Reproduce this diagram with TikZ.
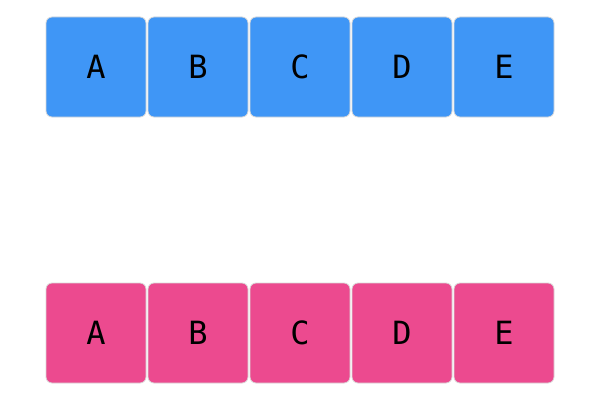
\documentclass[tikz,border=0pt]{standalone}
\usepackage{fontspec}
\setmonofont{DejaVu Sans Mono}
\usepackage{tikz}
\usetikzlibrary{positioning}
\definecolor{topblue}{HTML}{3F96F6}
\definecolor{botpink}{HTML}{EC4A8F}
\definecolor{rimgray}{HTML}{D8D8D8}

\begin{document}
\begin{tikzpicture}[x=1pt,y=1pt,node distance=1.2pt,
	nodes={draw=rimgray, line width=0.8pt, rounded corners=6pt, minimum width=100pt, minimum height=100pt, inner sep=0pt, font=\ttfamily\fontsize{32}{32}\selectfont}]
		\useasboundingbox (0,0) rectangle (600,400);
		\node (t1) [fill=topblue] at (96,333) {A};
		\node (t2) [fill=topblue, right = of t1] {B};
		\node (t3) [fill=topblue, right = of t2] {C};
		\node (t4) [fill=topblue, right = of t3] {D};
		\node (t5) [fill=topblue, right = of t4] {E};
		\node (b1) [fill=botpink] at (96,67) {A};
		\node (b2) [fill=botpink, right = of b1] {B};
		\node (b3) [fill=botpink, right = of b2] {C};
		\node (b4) [fill=botpink, right = of b3] {D};
		\node (b5) [fill=botpink, right = of b4] {E};
		\end{tikzpicture}
\end{document}
